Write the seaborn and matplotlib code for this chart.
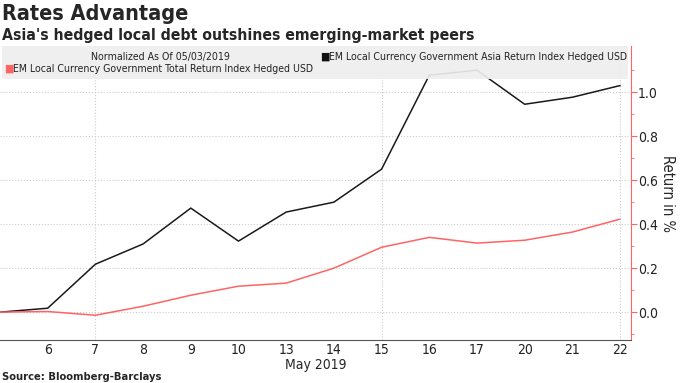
import pandas as pd
import matplotlib.pyplot as plt
import seaborn as sns
from matplotlib.patches import Rectangle

days = ["3", "6", "7", "8", "9", "10", "13", "14", "15", "16", "17", "20", "21", "22"]
asia = [0.0, 0.018, 0.218, 0.31, 0.473, 0.323, 0.455, 0.5, 0.65, 1.077, 1.1, 0.945, 0.977, 1.03]
total = [0.0, 0.003, -0.014, 0.027, 0.077, 0.118, 0.132, 0.2, 0.295, 0.34, 0.314, 0.327, 0.364, 0.423]
asia_name = "EM Local Currency Government Asia Return Index Hedged USD"
total_name = "EM Local Currency Government Total Return Index Hedged USD"
red = "#ff6464"

df = pd.DataFrame({"pos": list(range(len(days))) * 2,
                   "value": asia + total,
                   "series": [asia_name] * len(days) + [total_name] * len(days)})

sns.set_style("white")
plt.rcParams["font.family"] = ["DejaVu Sans"]
plt.rcParams["font.stretch"] = "condensed"

fig = plt.figure(figsize=(6.8, 3.83), dpi=100)
ax = fig.add_axes([0.0, 0.112, 0.928, 0.768])

sns.lineplot(data=df, x="pos", y="value", hue="series",
             palette={asia_name: "#1a1a1a", total_name: red},
             linewidth=1.1, ax=ax, legend=False)

ax.set_xlim(0, 13.23)
ax.set_ylim(-0.127, 1.21)
ax.set_xticks(range(1, len(days)))
ax.set_xticklabels(days[1:], fontsize=10)
ax.set_xlabel("May 2019", fontsize=10, labelpad=1)
ax.yaxis.tick_right()
ax.yaxis.set_label_position("right")
ax.set_yticks([0.0, 0.2, 0.4, 0.6, 0.8, 1.0])
ax.set_yticklabels(["0.0", "0.2", "0.4", "0.6", "0.8", "1.0"])
ax.set_yticks([-0.1, 0.1, 0.3, 0.5, 0.7, 0.9, 1.1], minor=True)
ax.set_ylabel("Return in %", rotation=270, labelpad=12, fontsize=10.5)
ax.tick_params(axis="y", which="both", colors=red, labelcolor="#222222", labelsize=10, direction="out")
ax.tick_params(axis="y", which="major", length=4, pad=1)
ax.tick_params(axis="y", which="minor", length=2)
ax.tick_params(axis="x", length=2, color="#555555", labelcolor="#222222", pad=0)

for s in ["top", "left"]:
    ax.spines[s].set_visible(False)
ax.spines["right"].set_color(red)
ax.spines["bottom"].set_color("#555555")

ax.yaxis.grid(True, which="major", linestyle=":", color="#cccccc", linewidth=0.8)
for xv in [2, 8, 13]:
    ax.axvline(xv, linestyle=":", color="#cccccc", linewidth=0.8, zorder=0)

# legend box drawn by hand, as in the Bloomberg layout
ax.add_patch(Rectangle((0.003, 0.888), 0.992, 0.112, transform=ax.transAxes,
                       facecolor="#eeeeee", edgecolor="none", alpha=0.92, zorder=3))
ax.text(0.255, 0.962, "Normalized As Of 05/03/2019", transform=ax.transAxes,
        ha="center", va="center", fontsize=7.6, color="#222222", zorder=4)
ax.text(0.508, 0.962, "■", transform=ax.transAxes, ha="left", va="center",
        fontsize=8, color="#111111", zorder=4)
ax.text(0.522, 0.962, asia_name, transform=ax.transAxes, ha="left", va="center",
        fontsize=7.6, color="#222222", zorder=4)
ax.text(0.006, 0.922, "■", transform=ax.transAxes, ha="left", va="center",
        fontsize=8, color=red, zorder=4)
ax.text(0.021, 0.922, total_name, transform=ax.transAxes, ha="left", va="center",
        fontsize=7.6, color="#222222", zorder=4)

fig.text(0.003, 0.963, "Rates Advantage", fontsize=15.5, fontweight="bold", va="center")
fig.text(0.003, 0.908, "Asia's hedged local debt outshines emerging-market peers", fontsize=11.3,
         fontweight="bold", va="center")
fig.text(0.003, 0.016, "Source: Bloomberg-Barclays", fontsize=8, fontweight="bold", va="center")

fig.savefig("out.png", dpi=100)
